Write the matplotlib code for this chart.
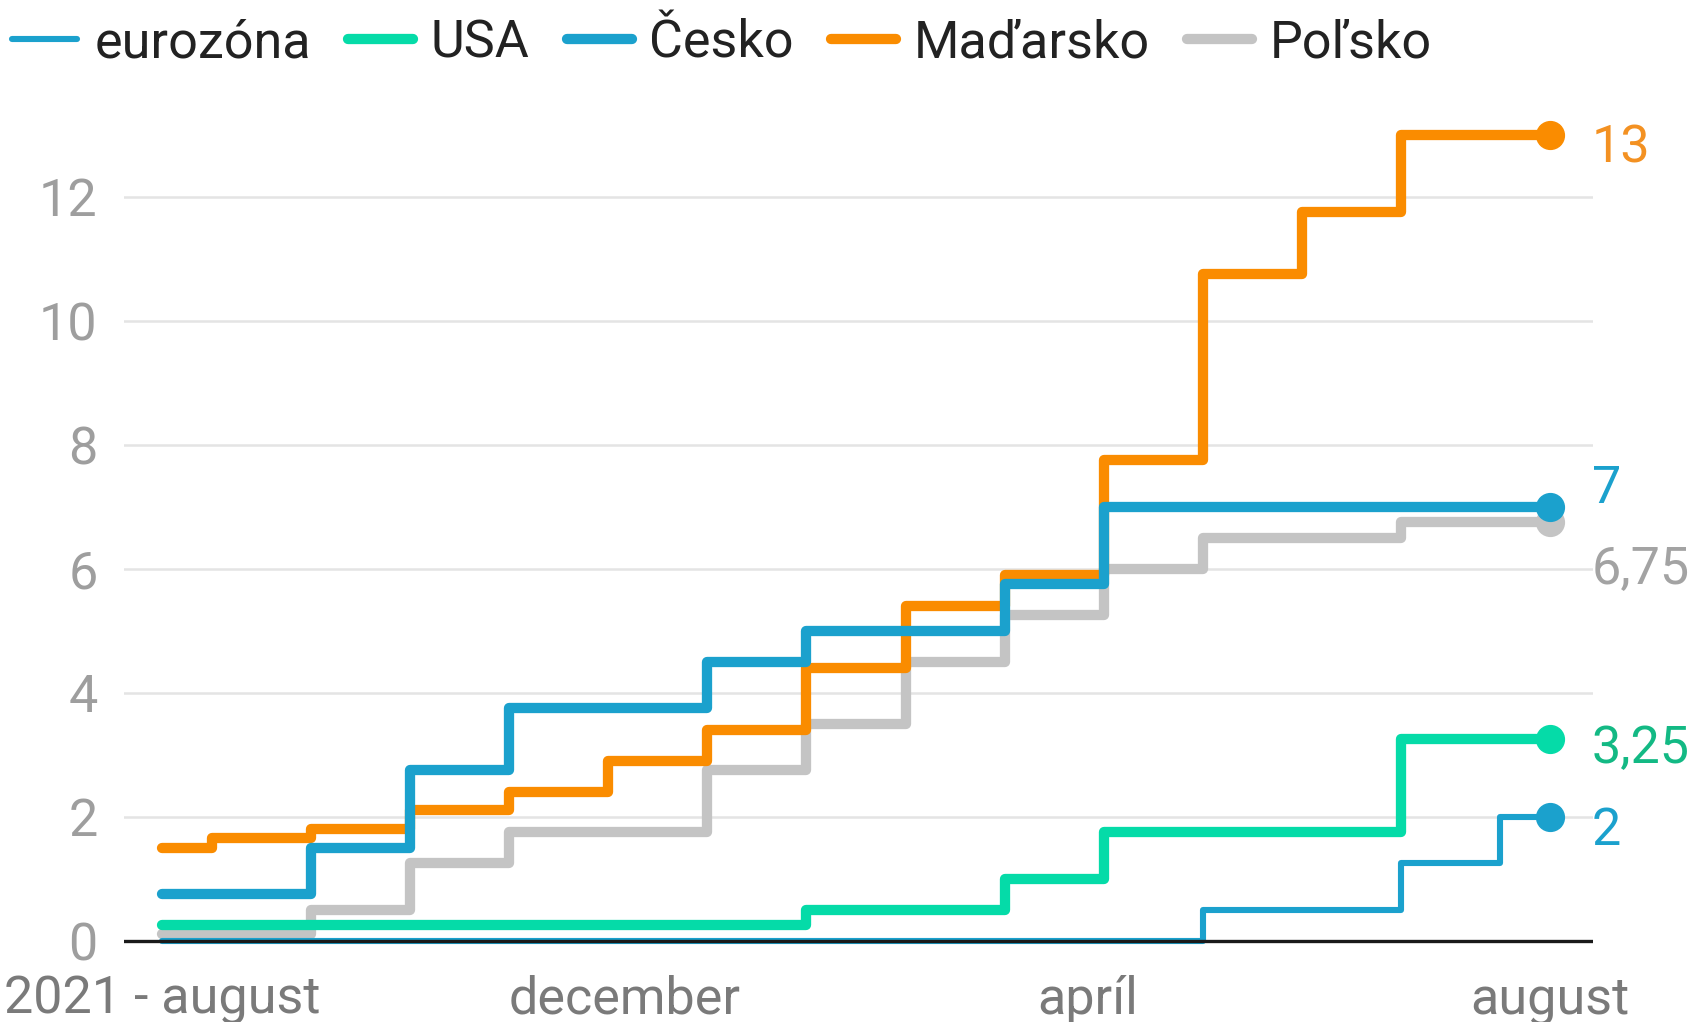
import matplotlib
matplotlib.use("Agg")
import matplotlib.pyplot as plt

plt.rcParams['font.family'] = ['Roboto', 'DejaVu Sans']

# half-monthly periods, 2021-08 .. 2022-08
last_period = 28
tick_pos = [0, 28 / 3, 56 / 3, 28]
tick_labels = ['2021 - august', 'december', 'apríl', 'august']

# (period where the rate changes, new rate)
euro_x = [0, 21, 25, 27]
euro_y = [0.0, 0.5, 1.25, 2.0]

usa_x = [0, 13, 17, 19, 25]
usa_y = [0.25, 0.5, 1.0, 1.75, 3.25]

cz_x = [0, 3, 5, 7, 11, 13, 17, 19]
cz_y = [0.75, 1.5, 2.75, 3.75, 4.5, 5.0, 5.75, 7.0]

hu_x = [0, 1, 3, 5, 7, 9, 11, 13, 15, 17, 19, 21, 23, 25]
hu_y = [1.5, 1.65, 1.8, 2.1, 2.4, 2.9, 3.4, 4.4, 5.4, 5.9, 7.75, 10.75, 11.75, 13.0]

pl_x = [0, 3, 5, 7, 11, 13, 15, 17, 19, 21, 25]
pl_y = [0.1, 0.5, 1.25, 1.75, 2.75, 3.5, 4.5, 5.25, 6.0, 6.5, 6.75]

end_labels = ['2', '3,25', '7', '13', '6,75']

# name, x, y, line colour, label colour, width, label nudge (px, down)
series = [
    ('eurozóna', euro_x, euro_y, '#1ba1cd', '#1ba1cd', 4.4, 14),
    ('USA', usa_x, usa_y, '#05dba8', '#13b984', 7.4, 10),
    ('Česko', cz_x, cz_y, '#1ba1cd', '#1ba1cd', 7.4, -18),
    ('Maďarsko', hu_x, hu_y, '#fa8c00', '#f39122', 7.4, 14),
    ('Poľsko', pl_x, pl_y, '#c4c4c4', '#a3a3a3', 7.4, 47),
]

fig = plt.figure(figsize=(16.94, 10.22), dpi=100)
ax = fig.add_axes([124 / 1694, 0.0735, (1593 - 124) / 1694, 0.825])

handles = []
n = len(series)
for i, (name, xs, ys, col, lcol, lw, nudge) in enumerate(series):
    z = 10 + (n - i)
    line, = ax.step(xs + [last_period], ys + [ys[-1]], where='post', color=col, lw=lw,
                    solid_capstyle='round', solid_joinstyle='round', zorder=z, label=name)
    ax.plot([last_period], [ys[-1]], 'o', color=col, markersize=20, zorder=z, clip_on=False)
    ax.annotate(end_labels[i], (last_period, ys[-1]), xytext=(30, -nudge * 0.72),
                textcoords='offset points', color=lcol, fontsize=37.5, va='center',
                ha='left', annotation_clip=False)
    handles.append(line)

ax.axhline(0, color='#1a1a1a', lw=2.4, zorder=30)

ax.set_xlim(-0.77, 28.87)
ax.set_ylim(-0.1, 13.5)
ax.set_yticks([0, 2, 4, 6, 8, 10, 12])
ax.set_xticks(tick_pos)
ax.set_xticklabels(tick_labels)
ax.tick_params(axis='y', length=0, pad=19, labelsize=37.5, labelcolor='#9e9e9e')
ax.tick_params(axis='x', length=0, pad=20, labelsize=37.5, labelcolor='#7a7a7a')
ax.grid(axis='y', color='#e4e4e4', lw=1.8)
ax.set_axisbelow(True)
for s in ax.spines.values():
    s.set_visible(False)

fig.legend(handles=handles, loc='center left', bbox_to_anchor=(0.007, 1 - 43 / 1022),
           ncol=5, frameon=False, fontsize=37.5, handlelength=1.25, handletextpad=0.33,
           columnspacing=0.72, borderpad=0, borderaxespad=0, labelcolor='#222222')

fig.savefig('out.png', dpi=100)
